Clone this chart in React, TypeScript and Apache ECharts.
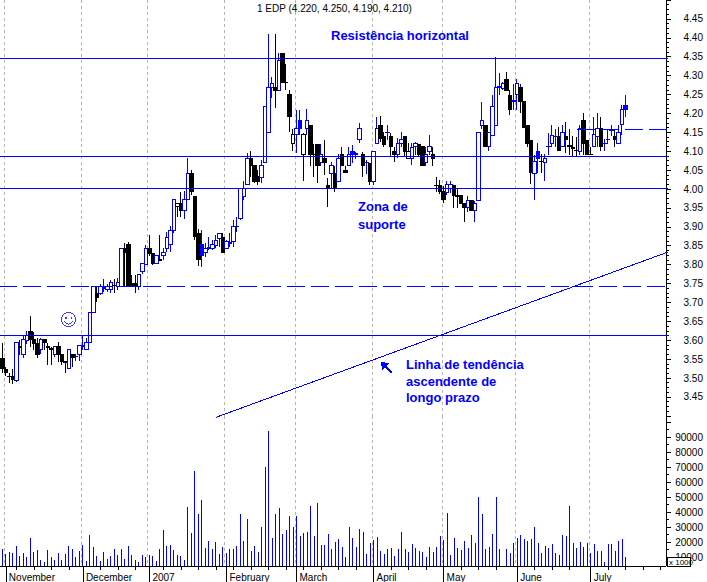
import React, { useEffect, useRef } from "react";
import * as echarts from "echarts";

const FONT = '"Liberation Sans", Arial, sans-serif';
const BLUE = "#0000ff";
const TITLE = "1 EDP (4.220, 4.250, 4.190, 4.210)";

const priceTicks = { min: 3.4, max: 4.5, interval: 0.05 };
const volumeTicks = [10000, 20000, 30000, 40000, 50000, 60000, 70000, 80000, 90000, 100000];
const volumeMinorTicks = [5000, 15000, 25000, 35000, 45000, 55000, 65000, 75000, 85000, 95000];

const slotCount = 190;
const monthStarts = [1, 23, 42, 64, 84, 106, 126, 147, 168];
const monthLabels = ["November", "December", "2007", "February", "March", "April", "May", "June", "July"];
const weekTicks = [4, 9, 14, 19, 28, 33, 38, 46, 51, 56, 61, 66, 71, 76, 81, 86, 91, 96, 101, 111, 116, 121, 131, 136, 141, 152, 157, 162, 173, 178, 183, 188];

const resistanceLevels = [4.3452, 4.086, 4.0013, 3.6124];
const dashedLevel = 3.742;
const recentLevel: [number, number][] = [[164, 4.1574], [189.6, 4.1574]];
const trendLine: [number, number][] = [[60.5, 3.396], [189.6, 3.833]];
const spanStart = -0.65;
const spanEnd = 189.6;

const filledBlue = [57, 85, 100, 153, 178];
const hollowBlack = [50, 83, 86, 116];

// open, close, low, high
const candles: number[][] = [
  [3.552,3.525,3.512,3.592],[3.523,3.514,3.505,3.53],[3.504,3.503,3.486,3.512],[3.503,3.495,3.484,3.523],[3.493,3.594,3.49,3.594],
  [3.583,3.58,3.56,3.6],[3.563,3.602,3.552,3.612],[3.6,3.612,3.59,3.625],[3.624,3.602,3.583,3.664],[3.602,3.592,3.574,3.622],
  [3.592,3.563,3.552,3.605],[3.576,3.602,3.563,3.605],[3.602,3.593,3.574,3.602],[3.583,3.581,3.534,3.592],[3.577,3.576,3.534,3.583],
  [3.563,3.583,3.555,3.583],[3.583,3.563,3.543,3.594],[3.563,3.543,3.534,3.563],[3.543,3.541,3.514,3.545],[3.525,3.576,3.525,3.576],
  [3.563,3.554,3.528,3.563],[3.556,3.557,3.546,3.563],[3.563,3.585,3.546,3.585],[3.583,3.585,3.574,3.614],[3.576,3.594,3.576,3.605],
  [3.594,3.674,3.594,3.674],[3.674,3.743,3.674,3.743],[3.724,3.712,3.7,3.742],[3.724,3.743,3.72,3.75],[3.737,3.739,3.728,3.763],
  [3.733,3.743,3.728,3.75],[3.733,3.752,3.724,3.76],[3.746,3.744,3.724,3.761],[3.742,3.753,3.733,3.764],[3.743,3.843,3.743,3.843],
  [3.843,3.831,3.743,3.856],[3.852,3.743,3.743,3.861],[3.75,3.743,3.743,3.772],[3.75,3.743,3.724,3.772],[3.741,3.774,3.733,3.774],
  [3.781,3.803,3.775,3.803],[3.801,3.843,3.801,3.851],[3.843,3.83,3.823,3.878],[3.83,3.803,3.8,3.83],[3.803,3.825,3.803,3.825],
  [3.814,3.812,3.812,3.878],[3.823,3.832,3.812,3.843],[3.843,3.872,3.834,3.887],[3.852,3.891,3.834,3.902],[3.891,3.971,3.883,3.973],
  [3.962,3.953,3.927,3.964],[3.962,3.944,3.927,3.991],[3.944,3.971,3.92,3.995],[3.971,4.041,3.971,4.081],[4.041,3.993,3.984,4.05],
  [3.981,3.874,3.865,3.981],[3.881,3.814,3.796,3.893],[3.825,3.852,3.794,3.891],[3.832,3.843,3.821,3.856],[3.843,3.845,3.838,3.874],
  [3.843,3.852,3.838,3.865],[3.85,3.863,3.843,3.878],[3.869,3.883,3.847,3.883],[3.872,3.832,3.832,3.883],[3.843,3.861,3.84,3.865],
  [3.857,3.859,3.847,3.883],[3.861,3.902,3.847,3.918],[3.901,3.902,3.887,3.927],[3.922,4.002,3.918,4.002],[3.98,4.002,3.971,4.02],
  [4.012,4.081,4.012,4.094],[4.081,4.062,4.032,4.1],[4.062,4.019,4.015,4.062],[4.033,4.019,4.01,4.05],[4.031,4.063,4.015,4.077],
  [4.07,4.218,4.07,4.218],[4.15,4.268,4.15,4.41],[4.268,4.28,4.24,4.297],[4.268,4.26,4.213,4.41],[4.26,4.341,4.26,4.359],
  [4.359,4.282,4.282,4.36],[4.283,4.281,4.262,4.332],[4.249,4.191,4.152,4.262],[4.143,4.121,4.1,4.16],[4.143,4.16,4.094,4.209],
  [4.16,4.18,4.143,4.209],[4.143,4.092,4.022,4.147],[4.159,4.182,4.143,4.211],[4.169,4.092,4.062,4.169],[4.092,4.09,4.033,4.12],
  [4.118,4.062,4.015,4.118],[4.07,4.092,4.06,4.12],[4.081,4.07,4.037,4.13],[4.01,4.003,3.953,4.03],[4.041,4.062,4.002,4.072],
  [4.041,4.003,3.993,4.06],[4.019,4.081,4.019,4.092],[4.092,4.062,4.062,4.112],[4.05,4.043,4.043,4.062],[4.062,4.092,4.062,4.112],
  [4.092,4.099,4.068,4.116],[4.092,4.094,4.08,4.099],[4.131,4.16,4.122,4.174],[4.092,4.062,4.033,4.099],[4.07,4.071,4.041,4.077],
  [4.068,4.019,4.01,4.068],[4.019,4.099,4.01,4.099],[4.121,4.16,4.121,4.19],[4.169,4.134,4.125,4.193],[4.138,4.119,4.11,4.15],
  [4.149,4.15,4.13,4.169],[4.138,4.112,4.085,4.147],[4.099,4.09,4.072,4.112],[4.09,4.121,4.081,4.134],[4.121,4.131,4.112,4.151],
  [4.14,4.099,4.085,4.14],[4.099,4.081,4.081,4.121],[4.081,4.11,4.063,4.121],[4.112,4.121,4.09,4.125],[4.119,4.09,4.085,4.119],
  [4.112,4.061,4.061,4.112],[4.07,4.09,4.061,4.112],[4.099,4.112,4.09,4.143],[4.09,4.081,4.061,4.112],[4.009,4.008,3.993,4.032],
  [4.009,3.993,3.988,4.024],[3.993,3.971,3.964,4.009],[3.991,4.013,3.984,4.022],[4.002,4.013,3.99,4.02],[4.009,3.982,3.949,4.009],
  [3.983,3.981,3.949,4.002],[3.982,3.962,3.962,3.982],[3.962,3.951,3.913,3.962],[3.951,3.969,3.94,3.981],[3.969,3.942,3.942,3.969],
  [3.942,3.962,3.913,3.969],[3.969,4.15,3.969,4.15],[4.169,4.182,4.16,4.231],[4.169,4.112,4.112,4.169],[4.112,4.149,4.101,4.149],
  [4.141,4.219,4.141,4.25],[4.169,4.269,4.169,4.348],[4.269,4.27,4.248,4.308],[4.266,4.279,4.262,4.284],[4.29,4.26,4.26,4.31],
  [4.248,4.21,4.195,4.262],[4.232,4.233,4.21,4.279],[4.25,4.279,4.21,4.29],[4.269,4.231,4.202,4.279],[4.231,4.162,4.162,4.231],
  [4.169,4.121,4.112,4.169],[4.129,4.043,4.013,4.129],[4.041,4.072,3.972,4.09],[4.081,4.099,4.043,4.121],[4.073,4.072,4.043,4.092],
  [4.07,4.081,4.022,4.092],[4.112,4.113,4.09,4.149],[4.121,4.141,4.112,4.169],[4.138,4.139,4.112,4.16],[4.14,4.101,4.101,4.163],
  [4.112,4.15,4.112,4.169],[4.14,4.131,4.094,4.178],[4.116,4.112,4.09,4.16],[4.11,4.108,4.084,4.14],[4.103,4.102,4.084,4.138],
  [4.099,4.16,4.09,4.169],[4.18,4.121,4.09,4.2],[4.129,4.09,4.09,4.129],[4.092,4.09,4.09,4.112],[4.112,4.143,4.112,4.191],
  [4.14,4.16,4.112,4.202],[4.16,4.112,4.101,4.191],[4.12,4.121,4.101,4.132],[4.13,4.131,4.12,4.16],[4.154,4.155,4.141,4.169],
  [4.14,4.131,4.112,4.16],[4.121,4.15,4.121,4.169],[4.17,4.21,4.143,4.221],[4.21,4.22,4.191,4.25],
];

const volumes = [
  15300,12000,13300,12700,17300,10700,12700,10000,22700,13300,
  14700,8000,6700,14700,10000,8000,12700,8000,12000,17300,
  15300,10000,14000,18000,7300,24700,16700,10700,7300,13300,
  8700,10700,15300,11300,15300,8700,17300,11300,8000,6700,
  11300,10000,11300,10700,7300,15300,28000,17300,18000,14700,
  11300,10700,8000,43300,26000,67300,38700,48000,16000,20700,
  15300,20000,12000,16700,12700,15300,15300,17300,38700,20700,
  35300,14000,17300,13300,30000,70000,94000,22700,38700,42700,
  25300,28000,37300,30000,37500,24000,26000,26700,44000,24000,
  46000,18000,18000,25300,15300,20000,22000,16700,10000,30000,
  22700,16700,28700,26700,12000,19300,21300,23300,14000,12000,
  15300,16000,10700,15300,26700,15300,13300,18700,16000,14000,
  13300,10000,16700,13300,16700,24000,21300,39300,11300,22700,
  16000,14700,20700,16000,24700,19300,50000,38700,15300,16700,
  25300,50000,15300,4000,15300,12700,19300,22700,24700,22000,
  20700,22000,30000,19300,12700,17300,16000,18700,12700,11300,
  24700,24000,44000,19300,16000,20000,16700,19300,12700,18700,
  14000,14000,6700,18700,18700,14000,20700,22000,10000,
];

const notes = [
  { text: "Resistência horizontal", x: 331, y: 35 },
  { text: "Zona de", x: 358, y: 206 },
  { text: "suporte", x: 358, y: 224 },
  { text: "Linha de tendência", x: 406, y: 364 },
  { text: "ascendente de", x: 406, y: 381 },
  { text: "longo prazo", x: 406, y: 397 },
];

const categories = Array.from({ length: slotCount }, (_, i) => String(i));
const isMonth = (i: number) => monthStarts.includes(i);
const isWeek = (i: number) => weekTicks.includes(i);

export default function App() {
  const ref = useRef<HTMLDivElement>(null);
  useEffect(() => {
    document.body.style.margin = "0";
    const chart = echarts.init(ref.current!, null, { renderer: "svg" });
    const monthSplit = { show: true, interval: (i: number) => isMonth(i), lineStyle: { color: "#b4b4b4", type: [3, 3] as any, width: 1 } };
    const axisBase = { type: "category" as const, data: categories, boundaryGap: true };
    const yTickStyle = { color: "#000", width: 1 };
    const levelSeries = (name: string, data: [number, number][], dash?: number[]) => ({
      type: "line", name, xAxisIndex: 0, yAxisIndex: 0, data, showSymbol: false, clip: false, z: 5,
      itemStyle: { color: BLUE }, lineStyle: { color: BLUE, width: 1, type: (dash ?? "solid") as any },
    });
    chart.setOption({
      animation: false,
      backgroundColor: "#fff",
      textStyle: { fontFamily: FONT },
      title: { text: TITLE, left: 257, top: 3, padding: 0, textStyle: { fontFamily: FONT, fontSize: 10, fontWeight: "normal", color: "#000" } },
      grid: [
        { left: 0.6, width: 665.4, top: 0, height: 415.8 },
        { left: 0.6, width: 665.4, top: 416, height: 150 },
      ],
      xAxis: [
        { ...axisBase, gridIndex: 0, axisLine: { show: false }, axisTick: { show: false, alignWithLabel: true }, axisLabel: { show: false }, splitLine: monthSplit },
        { ...axisBase, gridIndex: 1, position: "bottom", axisLine: { show: true, onZero: false, lineStyle: { color: "#000" } },
          axisTick: { show: true, alignWithLabel: true, interval: (i: number) => isWeek(i), length: 4, lineStyle: { color: "#000" } },
          axisLabel: { show: false }, splitLine: monthSplit },
        { ...axisBase, gridIndex: 1, position: "bottom", axisLine: { show: false, onZero: false },
          axisTick: { show: true, alignWithLabel: true, interval: (i: number) => isMonth(i), length: 16, lineStyle: { color: "#000" } },
          axisLabel: { show: true, interval: (i: number) => isMonth(i), hideOverlap: false, align: "left", margin: 6, padding: [0, 0, 0, 3], fontFamily: FONT, fontSize: 10, color: "#000",
            formatter: (v: string) => monthLabels[monthStarts.indexOf(Number(v))] ?? "" },
          splitLine: { show: false } },
      ],
      yAxis: [
        { type: "value", gridIndex: 0, position: "right", min: priceTicks.min, max: priceTicks.max, interval: priceTicks.interval, splitLine: { show: false },
          axisLine: { show: true, lineStyle: { color: "#000" } }, axisTick: { show: true, length: 5, lineStyle: yTickStyle },
          minorTick: { show: true, splitNumber: 4, length: 3, lineStyle: yTickStyle },
          axisLabel: { show: true, align: "right", margin: 37, fontFamily: FONT, fontSize: 10, color: "#000",
            formatter: (v: number) => (v > 3.42 && v < 4.48 ? v.toFixed(2) : "") } },
        { type: "value", gridIndex: 1, position: "right", min: 4000, max: 104000, splitLine: { show: false },
          axisLine: { show: true, lineStyle: { color: "#000" } },
          axisTick: { show: true, length: 5, customValues: volumeTicks, lineStyle: yTickStyle },
          axisLabel: { show: true, align: "right", margin: 37, fontFamily: FONT, fontSize: 10, color: "#000", customValues: volumeTicks.slice(0, 9), formatter: (v: number) => String(v) } },
        { type: "value", gridIndex: 1, position: "right", min: 4000, max: 104000, splitLine: { show: false },
          axisLine: { show: false }, axisTick: { show: true, length: 3, customValues: volumeMinorTicks, lineStyle: yTickStyle }, axisLabel: { show: false } },
      ],
      series: [
        { type: "candlestick", name: "EDP", xAxisIndex: 0, yAxisIndex: 0, barWidth: 4, clip: false,
          itemStyle: { color: "#fff", color0: "#000", borderColor: BLUE, borderColor0: "#000", borderWidth: 1 },
          data: candles.map((c, i) => {
            if (filledBlue.includes(i)) return { value: c, itemStyle: { color: BLUE } };
            if (hollowBlack.includes(i)) return { value: c, itemStyle: { color0: "#fff" } };
            return c;
          }) },
        ...resistanceLevels.map((v, i) => levelSeries(`Level ${i + 1}`, [[spanStart, v], [spanEnd, v]])),
        levelSeries("Dashed level", [[spanStart, dashedLevel], [spanEnd, dashedLevel]], [18, 6]),
        levelSeries("Recent level", recentLevel, [18, 6]),
        levelSeries("Trend", trendLine),
        { type: "bar", name: "Volume", xAxisIndex: 1, yAxisIndex: 1, data: volumes, barWidth: 1, itemStyle: { color: BLUE } },
      ],
      graphic: [
        ...notes.map((n) => ({ type: "text", x: n.x, y: n.y, z: 50, style: { text: n.text, fill: BLUE, font: `bold 13px ${FONT}`, textVerticalAlign: "middle" } })),
        { type: "line", z: 50, shape: { x1: 392, y1: 373, x2: 385, y2: 366 }, style: { stroke: BLUE, lineWidth: 2 } },
        { type: "polygon", z: 50, shape: { points: [[381, 362], [389, 363], [382, 370]] }, style: { fill: BLUE } },
        { type: "circle", z: 50, shape: { cx: 68.5, cy: 319.5, r: 7 }, style: { fill: "none", stroke: "#3a3aff", lineWidth: 1 } },
        { type: "arc", z: 50, shape: { cx: 68.5, cy: 320, r: 4, startAngle: 0.3, endAngle: 2.84 }, style: { fill: "none", stroke: "#3a3aff", lineWidth: 1 } },
        { type: "rect", z: 50, shape: { x: 65, y: 317, width: 1.5, height: 1.5 }, style: { fill: "#3a3aff" } },
        { type: "rect", z: 50, shape: { x: 70.5, y: 317, width: 1.5, height: 1.5 }, style: { fill: "#3a3aff" } },
        { type: "rect", z: 100, shape: { x: 667.5, y: 557.5, width: 23, height: 8.5 }, style: { fill: "#fff", stroke: "#000", lineWidth: 1 } },
        { type: "text", z: 101, x: 669, y: 562, style: { text: "x 1000", fill: "#000", font: `8px ${FONT}`, textVerticalAlign: "middle" } },
      ],
    });
    return () => chart.dispose();
  }, []);
  return (
    <>
      <style>{`svg path, svg line, svg rect, svg polyline { shape-rendering: crispEdges; }`}</style>
      <div ref={ref} style={{ position: "fixed", left: 0, top: 0, width: 707, height: 582 }} />
    </>
  );
}
